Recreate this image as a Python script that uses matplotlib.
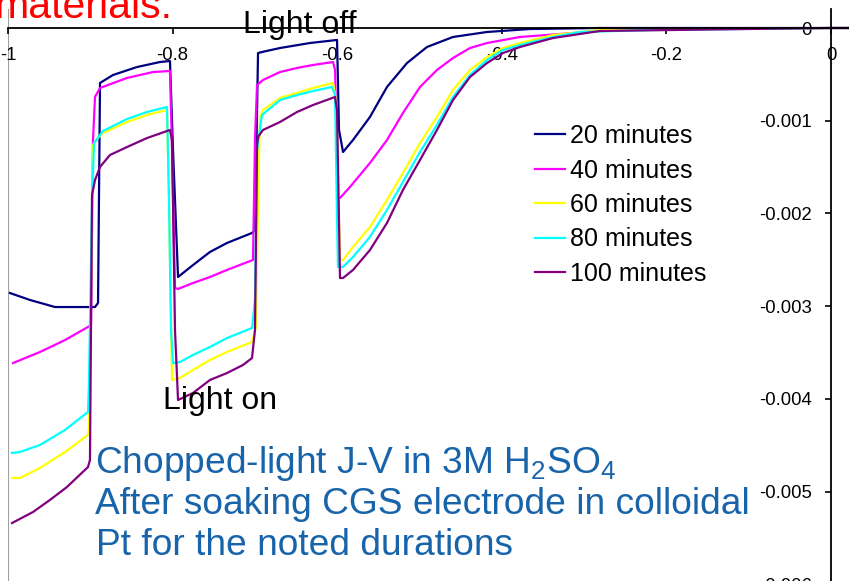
import matplotlib
matplotlib.use("Agg")
import matplotlib.pyplot as plt

plt.rcParams['font.family'] = ['Liberation Sans', 'DejaVu Sans']
plt.rcParams['axes.unicode_minus'] = False

# chopped-light J-V sweeps (V, J in A/cm2)
v_20 = [-0.9976, -0.9733, -0.9429, -0.8943, -0.8906, -0.8882, -0.8724, -0.8433, -0.8153, -0.8032,
        -0.7995, -0.7934, -0.7752, -0.7546, -0.7339, -0.7035, -0.6999, -0.6962, -0.6914, -0.6695,
        -0.6331, -0.6002, -0.5978, -0.5929, -0.5808, -0.5602, -0.5395, -0.5152, -0.4909, -0.4593,
        -0.4180, -0.3658, -0.2807, 0.0, 0.05]
j_20 = [-0.002859, -0.002934, -0.003010, -0.003010, -0.002966, -0.000593, -0.000507, -0.000421, -0.000367, -0.000356,
        -0.001316, -0.002686, -0.002557, -0.002416, -0.002319, -0.002211, -0.002179, -0.000270, -0.000259, -0.000216,
        -0.000162, -0.000129, -0.001100, -0.001338, -0.001208, -0.000960, -0.000636, -0.000378, -0.000205, -0.000097,
        -0.000043, -0.000011, 0.0, 0.0, 0.0]

v_40 = [-0.9939, -0.9611, -0.9307, -0.9028, -0.8992, -0.8967, -0.8943, -0.8882, -0.8554, -0.8238,
        -0.8032, -0.8007, -0.7971, -0.7934, -0.7752, -0.7546, -0.7339, -0.7023, -0.6999, -0.6974,
        -0.6902, -0.6695, -0.6488, -0.6294, -0.6051, -0.6026, -0.5990, -0.5966, -0.5845, -0.5602,
        -0.5395, -0.5201, -0.4994, -0.4788, -0.4593, -0.4387, -0.4180, -0.3779, -0.2807, -0.2199,
        0.0, 0.05]
j_40 = [-0.003614, -0.003495, -0.003366, -0.003225, -0.003204, -0.001208, -0.000744, -0.000647, -0.000539, -0.000475,
        -0.000464, -0.001316, -0.002805, -0.002815, -0.002751, -0.002686, -0.002610, -0.002502, -0.001208, -0.000615,
        -0.000561, -0.000475, -0.000431, -0.000399, -0.000367, -0.000453, -0.001834, -0.001834, -0.001715, -0.001456,
        -0.001208, -0.000917, -0.000636, -0.000453, -0.000324, -0.000216, -0.000162, -0.000097, -0.000032, -0.000011,
        0.0, 0.0]

v_60 = [-0.9951, -0.9854, -0.9611, -0.9307, -0.9028, -0.9016, -0.8992, -0.8967, -0.8930, -0.8846,
        -0.8554, -0.8311, -0.8068, -0.8044, -0.8007, -0.7910, -0.7752, -0.7546, -0.7339, -0.7035,
        -0.6987, -0.6962, -0.6938, -0.6902, -0.6695, -0.6488, -0.6294, -0.6051, -0.6014, -0.5966,
        -0.5929, -0.5808, -0.5602, -0.5395, -0.5201, -0.4994, -0.4788, -0.4593, -0.4387, -0.4180,
        -0.3986, -0.3779, -0.3378, -0.2807, 0.0, 0.05]
j_60 = [-0.004854, -0.004854, -0.004746, -0.004574, -0.004390, -0.004315, -0.002934, -0.001262, -0.001208, -0.001133,
        -0.001014, -0.000938, -0.000885, -0.001855, -0.003797, -0.003775, -0.003689, -0.003581, -0.003495, -0.003387,
        -0.003225, -0.001855, -0.000960, -0.000885, -0.000755, -0.000701, -0.000647, -0.000593, -0.000777, -0.002503,
        -0.002503, -0.002362, -0.002147, -0.001855, -0.001564, -0.001241, -0.000960, -0.000669, -0.000453, -0.000313,
        -0.000216, -0.000162, -0.000076, -0.000022, 0.0, 0.0]

v_80 = [-0.9951, -0.9854, -0.9611, -0.9307, -0.9028, -0.9016, -0.8979, -0.8955, -0.8846, -0.8554,
        -0.8311, -0.8068, -0.8044, -0.8019, -0.7995, -0.7910, -0.7752, -0.7546, -0.7339, -0.7035,
        -0.6999, -0.6974, -0.6914, -0.6695, -0.6488, -0.6294, -0.6063, -0.6026, -0.6002, -0.5990,
        -0.5929, -0.5808, -0.5602, -0.5395, -0.5201, -0.4994, -0.4788, -0.4593, -0.4387, -0.4180,
        -0.3986, -0.3779, -0.3378, -0.3050, -0.2199, 0.0, 0.05]
j_80 = [-0.004584, -0.004574, -0.004498, -0.004336, -0.004142, -0.003829, -0.001855, -0.001241, -0.001111, -0.000982,
        -0.000906, -0.000852, -0.001855, -0.003258, -0.003614, -0.003603, -0.003527, -0.003441, -0.003344, -0.003236,
        -0.002934, -0.001316, -0.000938, -0.000777, -0.000723, -0.000680, -0.000636, -0.000723, -0.002071, -0.002578,
        -0.002578, -0.002470, -0.002254, -0.001963, -0.001661, -0.001338, -0.001046, -0.000744, -0.000507, -0.000345,
        -0.000237, -0.000183, -0.000097, -0.000043, -0.000022, 0.0, 0.0]

v_100 = [-0.9951, -0.9696, -0.9490, -0.9283, -0.9028, -0.9004, -0.8979, -0.8943, -0.8882, -0.8761,
         -0.8554, -0.8311, -0.8032, -0.8007, -0.7971, -0.7934, -0.7752, -0.7546, -0.7339, -0.7144,
         -0.7035, -0.6999, -0.6974, -0.6962, -0.6902, -0.6695, -0.6488, -0.6294, -0.6026, -0.6002,
         -0.5966, -0.5929, -0.5808, -0.5602, -0.5395, -0.5201, -0.4994, -0.4788, -0.4593, -0.4387,
         -0.4180, -0.3986, -0.3779, -0.3378, -0.2807, -0.1045, 0.0, 0.05]
j_100 = [-0.005340, -0.005221, -0.005091, -0.004951, -0.004736, -0.004660, -0.001801, -0.001640, -0.001499, -0.001370,
         -0.001284, -0.001187, -0.001100, -0.001208, -0.003258, -0.004013, -0.003937, -0.003797, -0.003722, -0.003635,
         -0.003560, -0.003258, -0.001262, -0.001176, -0.001100, -0.001014, -0.000906, -0.000831, -0.000744, -0.000885,
         -0.002697, -0.002697, -0.002610, -0.002395, -0.002103, -0.001747, -0.001424, -0.001100, -0.000777, -0.000529,
         -0.000378, -0.000270, -0.000205, -0.000108, -0.000032, -0.000011, 0.0, 0.0]

labels = ['20 minutes', '40 minutes', '60 minutes', '80 minutes', '100 minutes']
colors = ['#000080', '#FF00FF', '#FFFF00', '#00FFFF', '#800080']
x_ticks = [-1, -0.8, -0.6, -0.4, -0.2, 0]
x_ticklabels = ['-1', '-0.8', '-0.6', '-0.4', '-0.2', '0']
y_ticks = [0, -0.001, -0.002, -0.003, -0.004, -0.005, -0.006]
y_ticklabels = ['0', '-0.001', '-0.002', '-0.003', '-0.004', '-0.005', '-0.006']

W, H = 849, 581
fig = plt.figure(figsize=(W / 100, H / 100), dpi=100)

# axes placed in pixels: x=-1 at 8px, x=0 at 831px, y=0 at 28px, 92.7 px per mA
px_per_v = 823.0
px_per_a = 92700.0
xmin, xmax = -1.0, 0.05
ymin, ymax = -0.006, 0.0002
left_px = 8
top_px = 28 - ymax * px_per_a
bot_px = 28 - ymin * px_per_a
ax = fig.add_axes([left_px / W, 1 - bot_px / H, (xmax - xmin) * px_per_v / W, (bot_px - top_px) / H])
ax.set_xlim(xmin, xmax)
ax.set_ylim(ymin, ymax)

series = [(v_20, j_20), (v_40, j_40), (v_60, j_60), (v_80, j_80), (v_100, j_100)]
for (v, j), lab, c in zip(series, labels, colors):
    ax.plot(v, j, color=c, lw=1.6, label=lab)

ax.axvline(-1, color='#a0a0a0', lw=1.5, zorder=0)

ax.spines['top'].set_visible(False)
ax.spines['right'].set_visible(False)
ax.spines['left'].set_position(('data', 0))
ax.spines['bottom'].set_position(('data', 0))
for s in ('left', 'bottom'):
    ax.spines[s].set_linewidth(1.3)
    ax.spines[s].set_color('black')

ax.set_xticks(x_ticks)
ax.set_xticklabels(x_ticklabels)
ax.set_yticks(y_ticks)
ax.set_yticklabels(y_ticklabels)
ax.tick_params(axis='both', direction='out', length=4, width=1.2, pad=10, labelsize=13.3)

leg = ax.legend(loc='upper left', bbox_to_anchor=(535 / W, 1 - 124 / H), bbox_transform=fig.transFigure,
                frameon=False, fontsize=18, handlelength=1.2, handletextpad=0.2,
                labelspacing=0.42, borderpad=0, borderaxespad=0)


def ftext(x, y, s, **kw):
    fig.text(x / W, 1 - y / H, s, va='baseline', ha='left', **kw)


ftext(-6, 18, 'materials.', color='#FF0000', fontsize=29.5)
ftext(243, 33, 'Light off', color='black', fontsize=23)
ftext(163, 409, 'Light on', color='black', fontsize=23)
blue = '#1864aa'
ftext(95, 473, r'Chopped-light J-V in 3M H$_\mathregular{2}$SO$_\mathregular{4}$', color=blue, fontsize=26.7)
ftext(95, 514, 'After soaking CGS electrode in colloidal', color=blue, fontsize=26.7)
ftext(96, 555, 'Pt for the noted durations', color=blue, fontsize=26.7)

fig.savefig('out.png', dpi=100)
